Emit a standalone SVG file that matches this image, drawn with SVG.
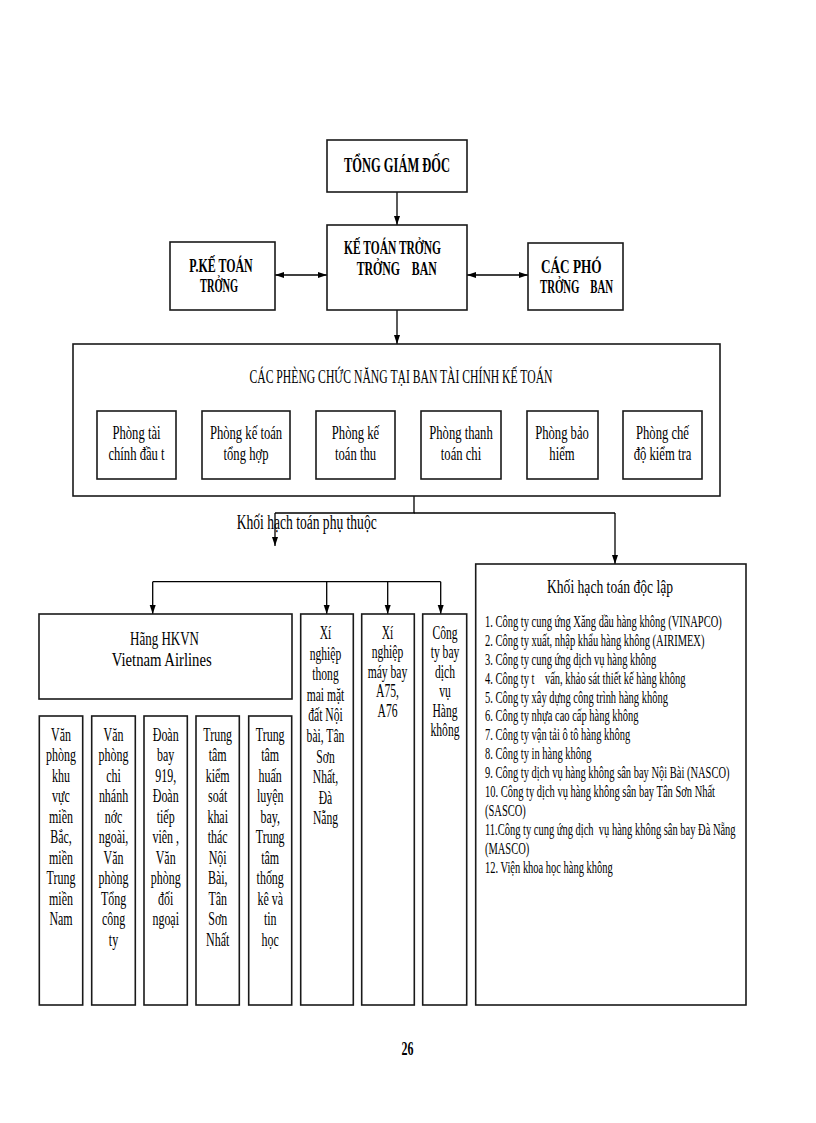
<svg xmlns="http://www.w3.org/2000/svg" width="816" height="1123" viewBox="0 0 816 1123">
<defs>
<marker id="ah" markerUnits="userSpaceOnUse" markerWidth="9" markerHeight="7" refX="9" refY="3.5" orient="auto-start-reverse"><path d="M0,0.5 L9,3.5 L0,6.5 z" fill="#000"/></marker>
<style>
.box{fill:#fff;stroke:#1a1a1a;stroke-width:1.6}
.con{fill:none;stroke:#000;stroke-width:1.3}
.arr{marker-end:url(#ah)}
.dbl{marker-start:url(#ah);marker-end:url(#ah)}
text{font-family:"Liberation Serif","Times New Roman",serif;fill:#000}
.b{font-weight:bold}
.c{text-anchor:middle}
.sub{font-size:19px;text-anchor:middle}
.col{font-size:18px;text-anchor:middle}
.lst{font-size:17px;white-space:pre}
</style>
</defs>
<rect x="0" y="0" width="816" height="1123" fill="#fff"/>

<g id="connectors">
<line class="con arr" x1="397" y1="192" x2="397" y2="225"/>
<line class="con dbl" x1="275" y1="275" x2="327" y2="275"/>
<line class="con dbl" x1="467" y1="275" x2="528" y2="275"/>
<line class="con arr" x1="397" y1="310" x2="397" y2="344"/>
<polyline class="con" points="414,496 414,513 275,513"/>
<line class="con" x1="414" y1="513" x2="615" y2="513"/>
<line class="con arr" x1="275" y1="513" x2="275" y2="546"/>
<line class="con arr" x1="615" y1="513" x2="615" y2="564"/>
<line class="con" x1="152.7" y1="581.7" x2="440.7" y2="581.7"/>
<line class="con arr" x1="152.7" y1="581.7" x2="152.7" y2="614"/>
<line class="con arr" x1="326.7" y1="581.7" x2="326.7" y2="614"/>
<line class="con arr" x1="387.7" y1="581.7" x2="387.7" y2="614"/>
<line class="con arr" x1="440.7" y1="581.7" x2="440.7" y2="614"/>
</g>

<g id="n-tgd">
<rect class="box" x="327" y="140" width="140" height="52"/>
<text class="b c" x="397" y="172" font-size="21.5" textLength="106" lengthAdjust="spacingAndGlyphs">TỔNG GIÁM ĐỐC</text>
</g>

<g id="n-ktt">
<rect class="box" x="327" y="225" width="140" height="85"/>
<text class="b c" x="392.5" y="254" font-size="19.5" textLength="97" lengthAdjust="spacingAndGlyphs">KẾ TOÁN TRỞNG</text>
<text class="b c" x="396.7" y="275" font-size="19.5" textLength="80" lengthAdjust="spacingAndGlyphs" xml:space="preserve" style="white-space:pre">TRỞNG    BAN</text>
</g>

<g id="n-pkt">
<rect class="box" x="170" y="242" width="105" height="68"/>
<text class="b c" x="221" y="271.7" font-size="19" textLength="63.4" lengthAdjust="spacingAndGlyphs">P.KẾ TOÁN</text>
<text class="b c" x="219" y="291.7" font-size="19" textLength="38" lengthAdjust="spacingAndGlyphs">TRỞNG</text>
</g>

<g id="n-cpt">
<rect class="box" x="528" y="243" width="95" height="67"/>
<text class="b c" x="571.3" y="272.7" font-size="18.5" textLength="60.7" lengthAdjust="spacingAndGlyphs">CÁC PHÓ</text>
<text class="b c" x="576.5" y="292.7" font-size="18.5" textLength="73" lengthAdjust="spacingAndGlyphs" xml:space="preserve" style="white-space:pre">TRỞNG    BAN</text>
</g>

<g id="n-cpcn">
<rect class="box" x="73" y="344" width="647" height="152"/>
<text class="c" x="401" y="383" font-size="18.5" textLength="303" lengthAdjust="spacingAndGlyphs">CÁC PHÈNG CHỨC NĂNG TẠI BAN TÀI CHÍNH KẾ TOÁN</text>
</g>

<g id="n-p1">
<rect class="box" x="97" y="411" width="79" height="68"/>
<text class="sub" transform="matrix(0.665 0 0 1 136.5 0)"><tspan x="0" y="439">Phòng tài</tspan><tspan x="0" y="460">chính đầu t</tspan></text>
</g>
<g id="n-p2">
<rect class="box" x="202" y="411" width="88" height="68"/>
<text class="sub" transform="matrix(0.665 0 0 1 246 0)"><tspan x="0" y="439">Phòng kế toán</tspan><tspan x="0" y="460">tổng hợp</tspan></text>
</g>
<g id="n-p3">
<rect class="box" x="316" y="411" width="79" height="68"/>
<text class="sub" transform="matrix(0.665 0 0 1 355.5 0)"><tspan x="0" y="439">Phòng kế</tspan><tspan x="0" y="460">toán thu</tspan></text>
</g>
<g id="n-p4">
<rect class="box" x="421" y="411" width="80" height="68"/>
<text class="sub" transform="matrix(0.665 0 0 1 461 0)"><tspan x="0" y="439">Phòng thanh</tspan><tspan x="0" y="460">toán chi</tspan></text>
</g>
<g id="n-p5">
<rect class="box" x="527" y="411" width="71" height="68"/>
<text class="sub" transform="matrix(0.665 0 0 1 562 0)"><tspan x="0" y="439">Phòng bảo</tspan><tspan x="0" y="460">hiểm</tspan></text>
</g>
<g id="n-p6">
<rect class="box" x="623" y="411" width="79" height="68"/>
<text class="sub" transform="matrix(0.665 0 0 1 662.5 0)"><tspan x="0" y="439">Phòng chế</tspan><tspan x="0" y="460">độ kiểm tra</tspan></text>
</g>

<g id="label-phuthuoc">
<text x="236.7" y="528.5" font-size="20" textLength="140" lengthAdjust="spacingAndGlyphs">Khối hạch toán phụ thuộc</text>
</g>

<g id="n-hkvn">
<rect class="box" x="39" y="614" width="253" height="85"/>
<text class="c" x="164.5" y="645" font-size="18.5" textLength="69" lengthAdjust="spacingAndGlyphs">Hãng HKVN</text>
<text class="c" x="161.7" y="666" font-size="18.5" textLength="100" lengthAdjust="spacingAndGlyphs">Vietnam Airlines</text>
</g>

<g id="n-c1">
<rect class="box" x="39.3" y="716" width="43.4" height="289"/>
<text class="col" transform="matrix(0.665 0 0 1 61 0)"><tspan x="0" y="740.7">Văn</tspan><tspan x="0" y="761.2">phòng</tspan><tspan x="0" y="781.7">khu</tspan><tspan x="0" y="802.2">vực</tspan><tspan x="0" y="822.7">miền</tspan><tspan x="0" y="843.2">Bắc,</tspan><tspan x="0" y="863.7">miền</tspan><tspan x="0" y="884.2">Trung</tspan><tspan x="0" y="904.7">miền</tspan><tspan x="0" y="925.2">Nam</tspan></text>
</g>
<g id="n-c2">
<rect class="box" x="91.7" y="716" width="43.6" height="289"/>
<text class="col" transform="matrix(0.665 0 0 1 113.5 0)"><tspan x="0" y="740.7">Văn</tspan><tspan x="0" y="761.2">phòng</tspan><tspan x="0" y="781.7">chi</tspan><tspan x="0" y="802.2">nhánh</tspan><tspan x="0" y="822.7">nớc</tspan><tspan x="0" y="843.2">ngoài,</tspan><tspan x="0" y="863.7">Văn</tspan><tspan x="0" y="884.2">phòng</tspan><tspan x="0" y="904.7">Tổng</tspan><tspan x="0" y="925.2">công</tspan><tspan x="0" y="945.7">ty</tspan></text>
</g>
<g id="n-c3">
<rect class="box" x="144" y="716" width="43.3" height="289"/>
<text class="col" transform="matrix(0.665 0 0 1 165.7 0)"><tspan x="0" y="740.7">Đoàn</tspan><tspan x="0" y="761.2">bay</tspan><tspan x="0" y="781.7">919,</tspan><tspan x="0" y="802.2">Đoàn</tspan><tspan x="0" y="822.7">tiếp</tspan><tspan x="0" y="843.2">viên ,</tspan><tspan x="0" y="863.7">Văn</tspan><tspan x="0" y="884.2">phòng</tspan><tspan x="0" y="904.7">đối</tspan><tspan x="0" y="925.2">ngoại</tspan></text>
</g>
<g id="n-c4">
<rect class="box" x="196" y="716" width="43.3" height="289"/>
<text class="col" transform="matrix(0.665 0 0 1 217.7 0)"><tspan x="0" y="740.7">Trung</tspan><tspan x="0" y="761.2">tâm</tspan><tspan x="0" y="781.7">kiểm</tspan><tspan x="0" y="802.2">soát</tspan><tspan x="0" y="822.7">khai</tspan><tspan x="0" y="843.2">thác</tspan><tspan x="0" y="863.7">Nội</tspan><tspan x="0" y="884.2">Bài,</tspan><tspan x="0" y="904.7">Tân</tspan><tspan x="0" y="925.2">Sơn</tspan><tspan x="0" y="945.7">Nhất</tspan></text>
</g>
<g id="n-c5">
<rect class="box" x="248.7" y="716" width="43" height="289"/>
<text class="col" transform="matrix(0.665 0 0 1 270.2 0)"><tspan x="0" y="740.7">Trung</tspan><tspan x="0" y="761.2">tâm</tspan><tspan x="0" y="781.7">huấn</tspan><tspan x="0" y="802.2">luyện</tspan><tspan x="0" y="822.7">bay,</tspan><tspan x="0" y="843.2">Trung</tspan><tspan x="0" y="863.7">tâm</tspan><tspan x="0" y="884.2">thống</tspan><tspan x="0" y="904.7">kê và</tspan><tspan x="0" y="925.2">tin</tspan><tspan x="0" y="945.7">học</tspan></text>
</g>

<g id="n-xn1">
<rect class="box" x="300.7" y="614" width="52.6" height="391"/>
<text class="col" transform="matrix(0.645 0 0 1 325.5 0)"><tspan x="0" y="639">Xí</tspan><tspan x="0" y="659.6">nghiệp</tspan><tspan x="0" y="680.2">thong</tspan><tspan x="0" y="700.8">mai mặt</tspan><tspan x="0" y="721.4">đất Nội</tspan><tspan x="0" y="742">bài, Tân</tspan><tspan x="0" y="762.6">Sơn</tspan><tspan x="0" y="783.2">Nhất,</tspan><tspan x="0" y="803.8">Đà</tspan><tspan x="0" y="824.4">Nẵng</tspan></text>
</g>
<g id="n-xn2">
<rect class="box" x="361.7" y="614" width="52.6" height="391"/>
<text class="col" transform="matrix(0.645 0 0 1 387.5 0)"><tspan x="0" y="639">Xí</tspan><tspan x="0" y="658.5">nghiệp</tspan><tspan x="0" y="678">máy bay</tspan><tspan x="0" y="697.5">A75,</tspan><tspan x="0" y="717">A76</tspan></text>
</g>
<g id="n-xn3">
<rect class="box" x="422.7" y="614" width="44" height="391"/>
<text class="col" transform="matrix(0.645 0 0 1 445 0)"><tspan x="0" y="639">Công</tspan><tspan x="0" y="658.5">ty bay</tspan><tspan x="0" y="678">dịch</tspan><tspan x="0" y="697.5">vụ</tspan><tspan x="0" y="717">Hàng</tspan><tspan x="0" y="736.5">không</tspan></text>
</g>

<g id="n-doclap">
<rect class="box" x="475.7" y="564" width="270.3" height="441"/>
<text class="c" x="610" y="593" font-size="19.5" textLength="126" lengthAdjust="spacingAndGlyphs">Khối hạch toán độc lập</text>
<text class="lst" xml:space="preserve" transform="matrix(0.617 0 0 1 485 0)"><tspan x="0" y="627">1. Công ty cung ứng Xăng dầu hàng không (VINAPCO)</tspan><tspan x="0" y="645.9">2. Công ty xuất, nhập khẩu hàng không (AIRIMEX)</tspan><tspan x="0" y="664.8">3. Công ty cung ứng dịch vụ hàng không</tspan><tspan x="0" y="683.7">4. Công ty t    vấn, khảo sát thiết kế hàng không</tspan><tspan x="0" y="702.6">5. Công ty xây dựng công trình hàng không</tspan><tspan x="0" y="721.5">6. Công ty nhựa cao cấp hàng không</tspan><tspan x="0" y="740.4">7. Công ty vận tải ô tô hàng không</tspan><tspan x="0" y="759.3">8. Công ty in hàng không</tspan><tspan x="0" y="778.2">9. Công ty dịch vụ hàng không sân bay Nội Bài (NASCO)</tspan><tspan x="0" y="797.1">10. Công ty dịch vụ hàng không sân bay Tân Sơn Nhất</tspan><tspan x="0" y="816">(SASCO)</tspan><tspan x="0" y="834.9">11.Công ty cung ứng dịch  vụ hàng không sân bay Đà Nẵng</tspan><tspan x="0" y="853.8">(MASCO)</tspan><tspan x="0" y="872.7">12. Viện khoa học hàng không</tspan></text>
</g>

<g id="page-number">
<text class="b c" x="407.5" y="1055" font-size="19" textLength="12" lengthAdjust="spacingAndGlyphs">26</text>
</g>
</svg>
